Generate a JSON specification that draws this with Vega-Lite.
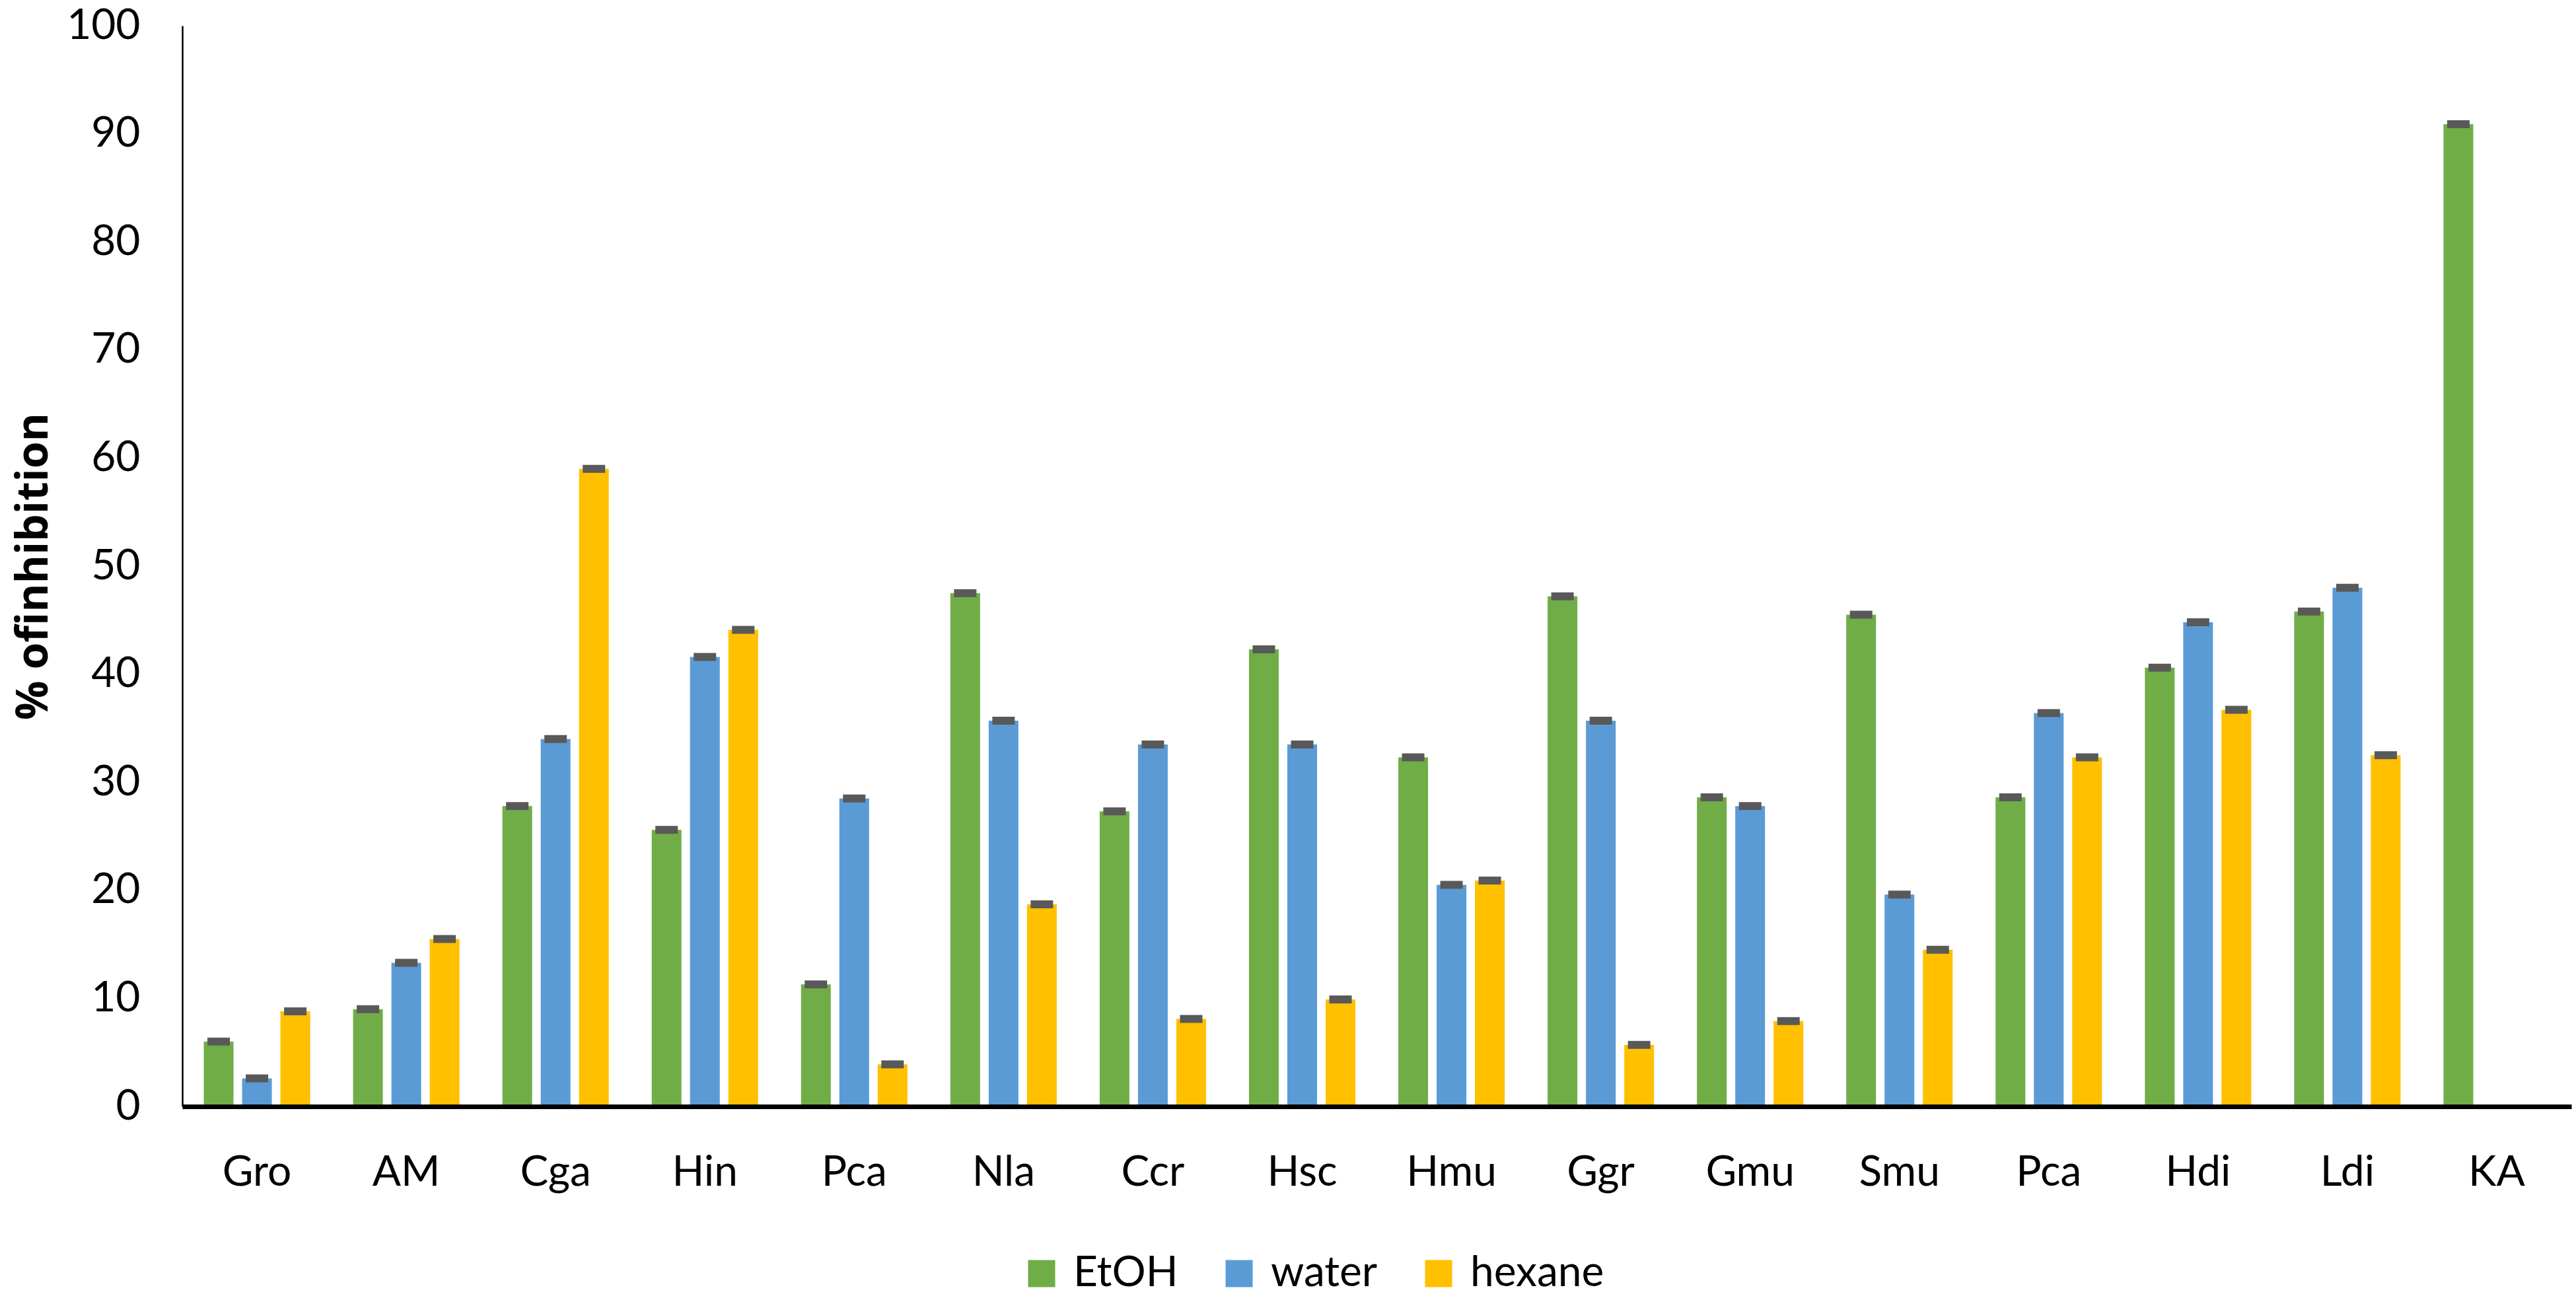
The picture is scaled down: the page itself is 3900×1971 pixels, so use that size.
{
  "$schema": "https://vega.github.io/schema/vega-lite/v6.json",
  "width": 3617,
  "height": 1636,
  "autosize": {"type": "none"},
  "padding": {"left": 276, "top": 39, "right": 7, "bottom": 296},
  "background": "white",
  "config": {
    "view": {"stroke": null},
    "font": "Lato"
  },
  "data": {
    "values": [
      {"plant": "Gro", "solvent": "EtOH", "value": 6.0},
      {"plant": "Gro", "solvent": "water", "value": 2.6},
      {"plant": "Gro", "solvent": "hexane", "value": 8.8},
      {"plant": "AM", "solvent": "EtOH", "value": 9.0},
      {"plant": "AM", "solvent": "water", "value": 13.3},
      {"plant": "AM", "solvent": "hexane", "value": 15.5},
      {"plant": "Cga", "solvent": "EtOH", "value": 27.8},
      {"plant": "Cga", "solvent": "water", "value": 34.0},
      {"plant": "Cga", "solvent": "hexane", "value": 59.0},
      {"plant": "Hin", "solvent": "EtOH", "value": 25.6},
      {"plant": "Hin", "solvent": "water", "value": 41.6},
      {"plant": "Hin", "solvent": "hexane", "value": 44.1},
      {"plant": "Pca", "solvent": "EtOH", "value": 11.3},
      {"plant": "Pca", "solvent": "water", "value": 28.5},
      {"plant": "Pca", "solvent": "hexane", "value": 3.9},
      {"plant": "Nla", "solvent": "EtOH", "value": 47.5},
      {"plant": "Nla", "solvent": "water", "value": 35.7},
      {"plant": "Nla", "solvent": "hexane", "value": 18.7},
      {"plant": "Ccr", "solvent": "EtOH", "value": 27.3},
      {"plant": "Ccr", "solvent": "water", "value": 33.5},
      {"plant": "Ccr", "solvent": "hexane", "value": 8.1},
      {"plant": "Hsc", "solvent": "EtOH", "value": 42.3},
      {"plant": "Hsc", "solvent": "water", "value": 33.5},
      {"plant": "Hsc", "solvent": "hexane", "value": 9.9},
      {"plant": "Hmu", "solvent": "EtOH", "value": 32.3},
      {"plant": "Hmu", "solvent": "water", "value": 20.5},
      {"plant": "Hmu", "solvent": "hexane", "value": 20.9},
      {"plant": "Ggr", "solvent": "EtOH", "value": 47.2},
      {"plant": "Ggr", "solvent": "water", "value": 35.7},
      {"plant": "Ggr", "solvent": "hexane", "value": 5.7},
      {"plant": "Gmu", "solvent": "EtOH", "value": 28.6},
      {"plant": "Gmu", "solvent": "water", "value": 27.8},
      {"plant": "Gmu", "solvent": "hexane", "value": 7.9},
      {"plant": "Smu", "solvent": "EtOH", "value": 45.5},
      {"plant": "Smu", "solvent": "water", "value": 19.6},
      {"plant": "Smu", "solvent": "hexane", "value": 14.5},
      {"plant": "Pca\u200b", "solvent": "EtOH", "value": 28.6},
      {"plant": "Pca\u200b", "solvent": "water", "value": 36.4},
      {"plant": "Pca\u200b", "solvent": "hexane", "value": 32.3},
      {"plant": "Hdi", "solvent": "EtOH", "value": 40.6},
      {"plant": "Hdi", "solvent": "water", "value": 44.8},
      {"plant": "Hdi", "solvent": "hexane", "value": 36.7},
      {"plant": "Ldi", "solvent": "EtOH", "value": 45.8},
      {"plant": "Ldi", "solvent": "water", "value": 48.0},
      {"plant": "Ldi", "solvent": "hexane", "value": 32.5},
      {"plant": "KA", "solvent": "EtOH", "value": 90.9}
    ]
  },
  "encoding": {
    "x": {
      "field": "plant",
      "type": "nominal",
      "sort": ["Gro", "AM", "Cga", "Hin", "Pca", "Nla", "Ccr", "Hsc", "Hmu", "Ggr", "Gmu", "Smu", "Pca\u200b", "Hdi", "Ldi", "KA"],
      "scale": {"paddingInner": 0, "paddingOuter": 0},
      "axis": {
        "title": null,
        "labelAngle": 0,
        "labelFontSize": 64,
        "labelColor": "black",
        "labelPadding": 68,
        "ticks": false,
        "domainColor": "black",
        "domainWidth": 7,
        "zindex": 1
      }
    },
    "xOffset": {
      "field": "solvent",
      "type": "nominal",
      "sort": ["EtOH", "water", "hexane"],
      "scale": {"paddingInner": 0.224, "paddingOuter": 0.56}
    },
    "y": {
      "field": "value",
      "type": "quantitative",
      "scale": {"domain": [0, 100], "nice": false},
      "axis": {
        "title": "% ofinhibition",
        "titleFont": "Open Sans",
        "titleFontWeight": "bold",
        "titleFontSize": 66,
        "titleColor": "black",
        "titleAngle": -90,
        "titleAlign": "center",
        "titleBaseline": "alphabetic",
        "titleX": -205,
        "titleY": 818,
        "values": [0, 10, 20, 30, 40, 50, 60, 70, 80, 90, 100],
        "labelFontSize": 64,
        "labelColor": "black",
        "labelPadding": 64,
        "ticks": false,
        "grid": false,
        "domainColor": "black",
        "domainWidth": 2.5
      }
    }
  },
  "layer": [
    {
      "mark": {"type": "bar"},
      "encoding": {
        "color": {
          "field": "solvent",
          "type": "nominal",
          "sort": ["EtOH", "water", "hexane"],
          "scale": {"domain": ["EtOH", "water", "hexane"], "range": ["#70AD47", "#5B9BD5", "#FFC000"]},
          "legend": {
            "title": null,
            "orient": "none",
            "direction": "horizontal",
            "legendX": 1269,
            "legendY": 1857,
            "symbolType": "square",
            "symbolSize": 1681,
            "symbolStrokeWidth": 0,
            "symbolOpacity": 1,
            "labelFontSize": 64,
            "labelColor": "black",
            "labelOffset": 16,
            "labelLimit": 0,
            "columnPadding": 60
          }
        }
      }
    },
    {
      "mark": {"type": "tick", "orient": "horizontal", "color": "#595959", "size": 34, "thickness": 12, "opacity": 1}
    }
  ]
}
